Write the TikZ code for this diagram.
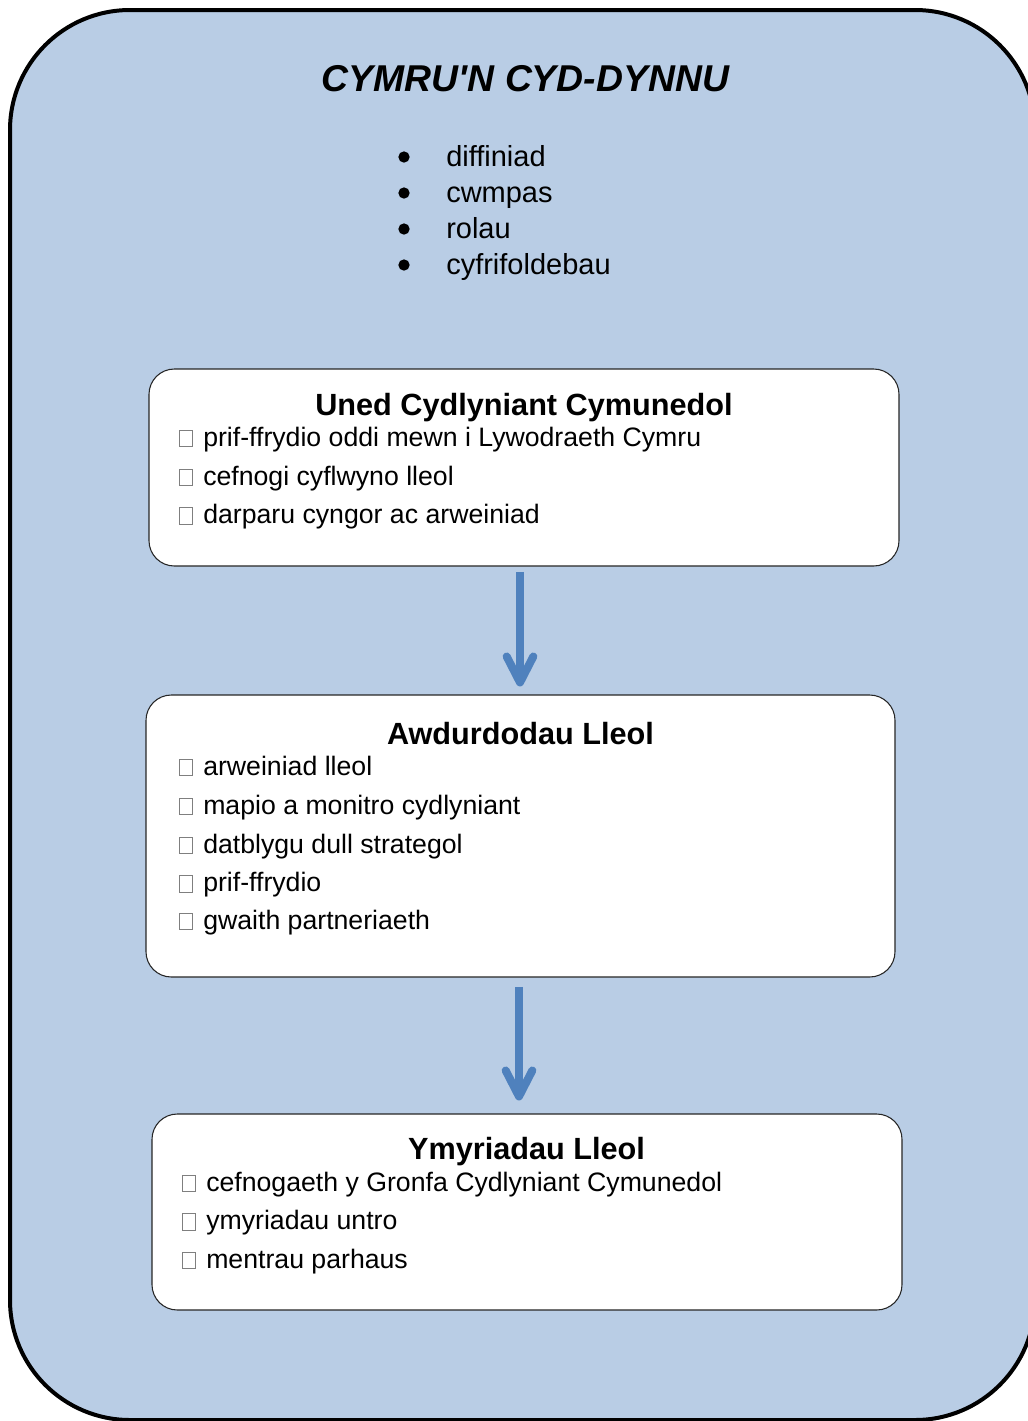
\documentclass[tikz,border=0pt]{standalone}
\usepackage{fontspec}
\setmainfont{Liberation Sans}
\newfontfamily\titlefont{Liberation Sans}
\usetikzlibrary{arrows.meta}
\definecolor{bgblue}{HTML}{B9CDE5}
\definecolor{arrowblue}{HTML}{4F81BD}
\definecolor{cbgray}{HTML}{7F7F7F}
\newcommand\cbx{\makebox[18pt][l]{\textcolor{cbgray}{\fboxsep=0pt\fboxrule=0.75pt\fbox{\rule{0pt}{11.5pt}\rule{8.5pt}{0pt}}}}}
\begin{document}
\begin{tikzpicture}[x=0.75pt,y=-0.75pt,
  outer/.style={draw=black,line width=3pt,fill=bgblue,rounded corners=90pt},
  panel/.style={draw=black!85,line width=0.8pt,fill=white,rounded corners=19pt,inner sep=0pt},
  titletext/.style={font=\titlefont\fontsize{28}{32}\selectfont\bfseries\itshape,anchor=base,inner sep=0pt},
  bul/.style={circle,fill=black,inner sep=0pt,minimum size=8.5pt},
  bultext/.style={font=\fontsize{21.75}{26}\selectfont,anchor=base west,inner sep=0pt},
  head/.style={font=\fontsize{23}{27}\selectfont\bfseries,anchor=base,inner sep=0pt},
  item/.style={font=\fontsize{20}{24}\selectfont,anchor=base west,inner sep=0pt},
  conn/.style={draw=arrowblue,line width=6pt,-{Straight Barb[length=19.5pt,width=20pt,round]}},
]
\useasboundingbox (0,0) rectangle (1028,1421);
\draw[outer] (10,10) rectangle (1035,1420);

\node[titletext] (title) at (525.5,91) {CYMRU'N CYD-DYNNU};

\node[bul] (bl1) at (404,157) {};
\node[bul] (bl2) at (404,193) {};
\node[bul] (bl3) at (404,229) {};
\node[bul] (bl4) at (404,265) {};
\node[bultext] (bt1) at (446,166) {diffiniad};
\node[bultext] (bt2) at (446,202) {cwmpas};
\node[bultext] (bt3) at (446,238) {rolau};
\node[bultext] (bt4) at (446,274) {cyfrifoldebau};

\node[panel,minimum width=562.5pt,minimum height=147.75pt] (b1) at (524,467.5) {};
\node[panel,minimum width=561.75pt,minimum height=211.5pt] (b2) at (520.5,836) {};
\node[panel,minimum width=562.5pt,minimum height=147pt] (b3) at (527,1212) {};

\node[head] (h1) at (524,415) {Uned Cydlyniant Cymunedol};
\node[item] (i11) at (179,446) {\cbx prif-ffrydio oddi mewn i Lywodraeth Cymru};
\node[item] (i12) at (179,485) {\cbx cefnogi cyflwyno lleol};
\node[item] (i13) at (179,523.5) {\cbx darparu cyngor ac arweiniad};

\node[head] (h2) at (520.5,744) {Awdurdodau Lleol};
\node[item] (i21) at (179,775) {\cbx arweiniad lleol};
\node[item] (i22) at (179,814) {\cbx mapio a monitro cydlyniant};
\node[item] (i23) at (179,853) {\cbx datblygu dull strategol};
\node[item] (i24) at (179,891.5) {\cbx prif-ffrydio};
\node[item] (i25) at (179,929) {\cbx gwaith partneriaeth};

\node[head] (h3) at (526.5,1159) {Ymyriadau Lleol};
\node[item] (i31) at (182,1191) {\cbx cefnogaeth y Gronfa Cydlyniant Cymunedol};
\node[item] (i32) at (182,1229.5) {\cbx ymyriadau untro};
\node[item] (i33) at (182,1268) {\cbx mentrau parhaus};

\draw[conn,shorten <=4pt,shorten >=6pt] ([xshift=-3pt]b1.south) -- ([xshift=-0.375pt]b2.north);
\draw[conn,shorten <=7pt,shorten >=9.75pt] ([xshift=-1.125pt]b2.south) -- ([xshift=-6pt]b3.north);
\end{tikzpicture}
\end{document}
